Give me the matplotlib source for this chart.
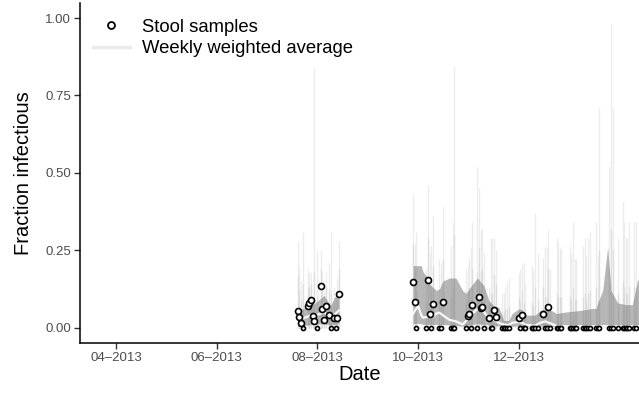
import numpy as np
import pandas as pd
import matplotlib
matplotlib.use('Agg')
from matplotlib import pyplot as plt
from matplotlib import dates as mdates
from matplotlib.lines import Line2D

plt.rcParams['font.family'] = ['Liberation Sans', 'DejaVu Sans']

# stool samples: date, estimated fraction, 95% upper, 50% upper
samp_date = [
    '2013-07-20', '2013-07-21', '2013-07-22', '2013-07-23', '2013-07-26', '2013-07-27',
    '2013-07-28', '2013-07-29', '2013-07-30', '2013-08-01', '2013-08-03', '2013-08-04',
    '2013-08-05', '2013-08-06', '2013-08-08', '2013-08-09', '2013-08-11', '2013-08-12',
    '2013-08-13', '2013-08-14',
    '2013-09-28', '2013-09-29', '2013-09-30', '2013-10-06', '2013-10-07', '2013-10-08',
    '2013-10-09', '2013-10-10', '2013-10-14', '2013-10-15', '2013-10-16', '2013-10-21',
    '2013-10-22', '2013-10-23', '2013-10-30', '2013-10-31', '2013-11-01', '2013-11-02',
    '2013-11-03', '2013-11-06', '2013-11-07', '2013-11-08', '2013-11-09', '2013-11-10',
    '2013-11-13', '2013-11-14', '2013-11-15', '2013-11-16', '2013-11-17', '2013-11-21',
    '2013-11-22', '2013-11-23', '2013-11-24', '2013-11-25', '2013-12-01', '2013-12-02',
    '2013-12-03', '2013-12-04', '2013-12-05', '2013-12-09', '2013-12-10', '2013-12-11',
    '2013-12-13', '2013-12-16', '2013-12-17', '2013-12-18', '2013-12-19', '2013-12-20',
    '2013-12-24', '2013-12-25', '2013-12-26', '2013-12-27', '2014-01-01', '2014-01-02',
    '2014-01-03', '2014-01-04', '2014-01-05', '2014-01-09', '2014-01-10', '2014-01-11',
    '2014-01-12', '2014-01-13', '2014-01-17', '2014-01-18', '2014-01-19', '2014-01-25',
    '2014-01-26', '2014-01-27', '2014-01-30', '2014-02-02', '2014-02-03', '2014-02-04',
    '2014-02-05', '2014-02-06', '2014-02-09', '2014-02-10',
]
samp_frac = [
    0.055, 0.035, 0.016, 0.000, 0.068, 0.078, 0.090, 0.036, 0.020, 0.000, 0.133, 0.061,
    0.023, 0.071, 0.042, 0.000, 0.032, 0.000, 0.032, 0.107,
    0.146, 0.081, 0.000, 0.000, 0.152, 0.045, 0.000, 0.077, 0.000, 0.000, 0.083, 0.000,
    0.000, 0.000, 0.000, 0.038, 0.045, 0.000, 0.072, 0.000, 0.100, 0.062, 0.067, 0.000,
    0.030, 0.000, 0.000, 0.058, 0.035, 0.000, 0.000, 0.000, 0.000, 0.000, 0.030, 0.000,
    0.042, 0.000, 0.000, 0.000, 0.000, 0.000, 0.000, 0.045, 0.000, 0.000, 0.067, 0.000,
    0.000, 0.000, 0.000, 0.000, 0.000, 0.000, 0.000, 0.000, 0.000, 0.000, 0.000, 0.000,
    0.000, 0.000, 0.000, 0.000, 0.000, 0.000, 0.000, 0.000, 0.000, 0.000, 0.000, 0.000,
    0.000, 0.000, 0.000, 0.000,
]
samp_hi = [
    0.28, 0.20, 0.15, 0.31, 0.19, 0.18, 0.18, 0.08, 0.84, 0.25, 0.25, 0.18,
    0.12, 0.18, 0.21, 0.31, 0.13, 0.10, 0.16, 0.28,
    0.43, 0.27, 0.31, 0.19, 0.46, 0.24, 0.265, 0.36, 0.22, 0.21, 0.39, 0.265,
    0.34, 0.845, 0.19, 0.20, 0.225, 0.26, 0.34, 0.52, 0.45, 0.32, 0.32, 0.24,
    0.13, 0.29, 0.29, 0.29, 0.25, 0.11, 0.113, 0.13, 0.15, 0.16, 0.175, 0.19,
    0.21, 0.21, 0.14, 0.20, 0.185, 0.37, 0.24, 0.225, 0.26, 0.26, 0.32, 0.19,
    0.29, 0.275, 0.255, 0.26, 0.265, 0.24, 0.34, 0.22, 0.22, 0.265, 0.29, 0.23,
    0.29, 0.31, 0.34, 0.23, 0.71, 0.52, 0.98, 0.71, 0.29, 0.41, 0.34, 0.29,
    0.29, 0.34, 0.34, 0.34,
]
samp_mid = [
    0.17, 0.12, 0.09, 0.14, 0.13, 0.13, 0.14, 0.06, 0.18, 0.10, 0.19, 0.12,
    0.07, 0.13, 0.12, 0.11, 0.08, 0.05, 0.09, 0.19,
    0.27, 0.18, 0.12, 0.08, 0.29, 0.14, 0.11, 0.20, 0.09, 0.09, 0.22, 0.10,
    0.13, 0.30, 0.08, 0.12, 0.13, 0.10, 0.19, 0.18, 0.26, 0.18, 0.19, 0.10,
    0.08, 0.11, 0.11, 0.17, 0.14, 0.05, 0.05, 0.06, 0.06, 0.07, 0.10, 0.08,
    0.12, 0.08, 0.06, 0.08, 0.07, 0.13, 0.09, 0.13, 0.10, 0.10, 0.19, 0.08,
    0.11, 0.10, 0.10, 0.10, 0.10, 0.09, 0.13, 0.09, 0.09, 0.10, 0.11, 0.09,
    0.11, 0.12, 0.13, 0.09, 0.25, 0.19, 0.32, 0.25, 0.11, 0.15, 0.13, 0.11,
    0.11, 0.13, 0.13, 0.13,
]

# weekly weighted average: date, lower, mean, upper
week_date = [
    '2013-07-20', '2013-07-23', '2013-07-26', '2013-07-28', '2013-07-30', '2013-08-03',
    '2013-08-05', '2013-08-07', '2013-08-09', '2013-08-11', '2013-08-13', '2013-08-14',
    '2013-09-28', '2013-10-01', '2013-10-03', '2013-10-04', '2013-10-07', '2013-10-08',
    '2013-10-10', '2013-10-12', '2013-10-14', '2013-10-16', '2013-10-20', '2013-10-24',
    '2013-10-28', '2013-10-30', '2013-11-03', '2013-11-06', '2013-11-10', '2013-11-13',
    '2013-11-16', '2013-11-19', '2013-11-22', '2013-11-25', '2013-11-27', '2013-12-01',
    '2013-12-03', '2013-12-06', '2013-12-11', '2013-12-14', '2013-12-17', '2013-12-21',
    '2013-12-24', '2013-12-29', '2014-01-04', '2014-01-07', '2014-01-14', '2014-01-17',
    '2014-01-18', '2014-01-21', '2014-01-24', '2014-01-26', '2014-01-30', '2014-02-04',
    '2014-02-08', '2014-02-11', '2014-02-14',
]
week_lo = [
    0.005, 0.005, 0.008, 0.010, 0.010, 0.012, 0.012, 0.010, 0.008, 0.010, 0.012, 0.014,
    0.012, 0.014, 0.012, 0.010, 0.010, 0.010, 0.010, 0.010, 0.010, 0.010, 0.008, 0.006,
    0.004, 0.006, 0.010, 0.012, 0.010, 0.008, 0.006, 0.005, 0.004, 0.004, 0.004, 0.005,
    0.004, 0.003, 0.003, 0.004, 0.005, 0.004, 0.003, 0.003, 0.003, 0.003, 0.003, 0.003,
    0.003, 0.003, 0.003, 0.003, 0.003, 0.003, 0.003, 0.003, 0.003,
]
week_mid = [
    0.025, 0.030, 0.035, 0.040, 0.038, 0.045, 0.050, 0.040, 0.032, 0.040, 0.050, 0.055,
    0.045, 0.070, 0.040, 0.032, 0.035, 0.040, 0.035, 0.045, 0.048, 0.040, 0.025, 0.020,
    0.010, 0.020, 0.045, 0.060, 0.050, 0.030, 0.025, 0.015, 0.010, 0.008, 0.015, 0.018,
    0.015, 0.008, 0.006, 0.015, 0.020, 0.012, 0.005, 0.004, 0.004, 0.004, 0.004, 0.004,
    0.004, 0.004, 0.005, 0.004, 0.004, 0.004, 0.004, 0.004, 0.004,
]
week_hi = [
    0.055, 0.060, 0.070, 0.080, 0.078, 0.094, 0.104, 0.087, 0.071, 0.094, 0.110, 0.120,
    0.200, 0.200, 0.200, 0.180, 0.160, 0.140, 0.130, 0.120, 0.125, 0.150, 0.160, 0.160,
    0.120, 0.110, 0.140, 0.160, 0.135, 0.087, 0.070, 0.065, 0.023, 0.023, 0.045, 0.060,
    0.058, 0.040, 0.040, 0.055, 0.060, 0.055, 0.045, 0.050, 0.053, 0.055, 0.061, 0.062,
    0.080, 0.120, 0.260, 0.120, 0.080, 0.074, 0.074, 0.150, 0.180,
]

y_ticks = [0.0, 0.25, 0.50, 0.75, 1.00]
x_ticks = ['2013-04-01', '2013-06-01', '2013-08-01', '2013-10-01', '2013-12-01']

sd = pd.to_datetime(samp_date)
wd = pd.to_datetime(week_date)
frac = np.array(samp_frac)

fig = plt.figure(figsize=(6.39, 3.93), dpi=100)
ax = fig.add_axes([0.1252, 0.1272, 0.8748, 0.8662])

# sample intervals
ax.vlines(sd, 0, samp_hi, color='#ececec', lw=0.9, zorder=1)
ax.vlines(sd, 0, samp_mid, color='#dcdcdc', lw=0.9, zorder=1.5)

# weekly ribbon, one piece per sampling period
wdays = np.asarray(wd.values, dtype='datetime64[D]').astype(int)
breaks = np.where(np.diff(wdays) > 14)[0] + 1
lo, mid, hi = np.array(week_lo), np.array(week_mid), np.array(week_hi)
for idx in np.split(np.arange(len(wd)), breaks):
    ax.fill_between(wd[idx], lo[idx], hi[idx], color='#7a7a7a', alpha=0.55,
                    lw=0, zorder=2)
    ax.plot(wd[idx], mid[idx], color='white', lw=1.6, alpha=0.9, zorder=3)

# points: zero estimates drawn smaller
zero = frac == 0
ax.plot(sd[~zero], frac[~zero], 'o', ms=4.3, mfc='white', mec='black', mew=1.2,
        zorder=4, ls='none')
ax.plot(sd[zero], frac[zero], 'o', ms=2.9, mfc='white', mec='black', mew=1.2,
        zorder=4, ls='none')

ax.set_ylim(-0.05, 1.05)
ax.set_xlim(pd.Timestamp('2013-03-10'), pd.Timestamp('2014-02-12'))
ax.set_yticks(y_ticks)
ax.set_yticklabels(['%.2f' % v for v in y_ticks])
ax.set_xticks(pd.to_datetime(x_ticks))
ax.xaxis.set_major_formatter(mdates.DateFormatter('%m\u2013%Y'))

for s in ['top', 'right']:
    ax.spines[s].set_visible(False)
for s in ['left', 'bottom']:
    ax.spines[s].set_linewidth(1.1)
ax.tick_params(length=4, width=1.0, color='#333333', labelcolor='#4d4d4d',
               labelsize=9.5, pad=2.5)
ax.set_xlabel('Date', fontsize=14.5, labelpad=1)
ax.set_ylabel('Fraction infectious', fontsize=14.5, labelpad=9)

handles = [
    Line2D([], [], marker='o', ls='none', ms=5, mfc='white', mec='black', mew=1.3),
    Line2D([], [], color='#ebebeb', lw=2.5),
]
ax.legend(handles, ['Stool samples', 'Weekly weighted average'], loc='upper left',
          frameon=False, fontsize=13.3, handlelength=2.0, borderaxespad=0.3,
          handletextpad=0.65, labelspacing=0.22, bbox_to_anchor=(0.0, 0.99))

fig.savefig('out.png', dpi=100)
